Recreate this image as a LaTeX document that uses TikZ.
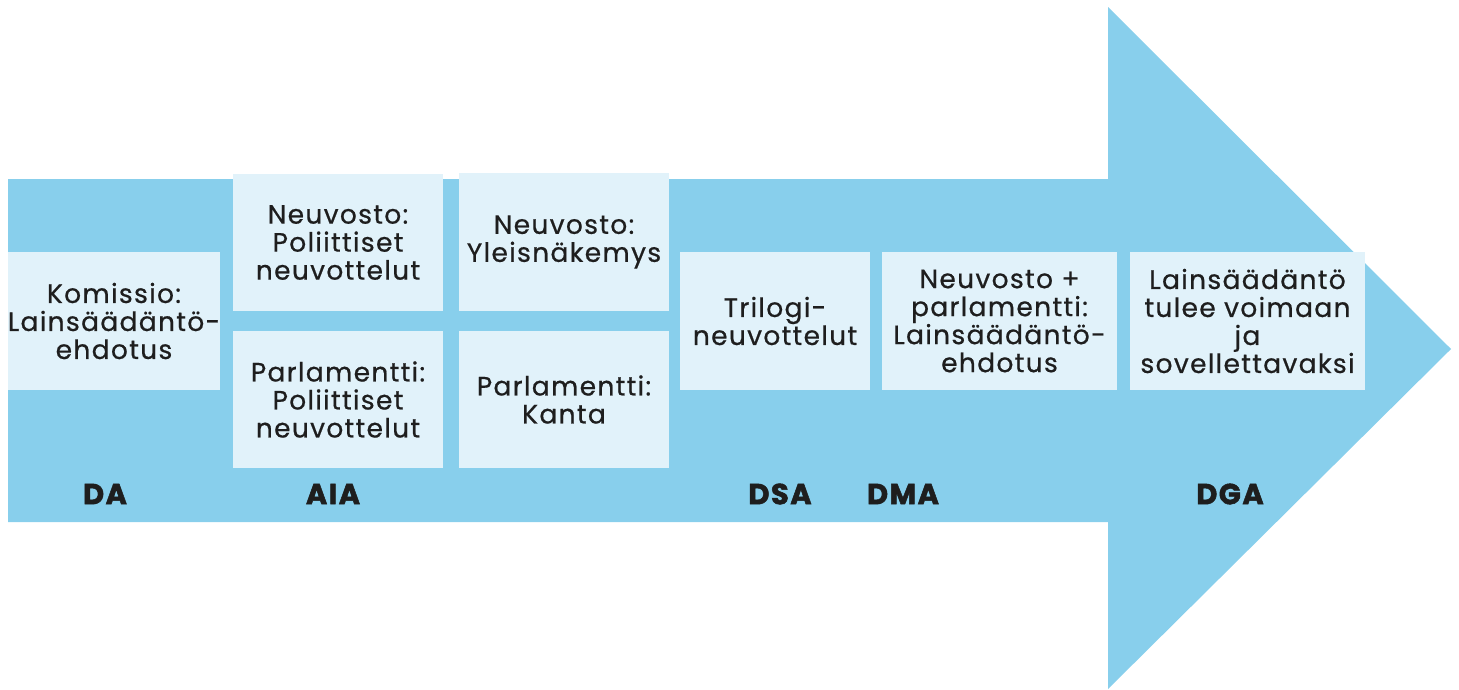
\documentclass[tikz,border=0pt]{standalone}
\usepackage{fontspec}
\setmainfont{Poppins}[LetterSpace=5,UprightFeatures={FakeBold=0.6},BoldFeatures={FakeBold=1.8}]
\usetikzlibrary{positioning}
\definecolor{arrowblue}{HTML}{88CFEC}
\definecolor{boxblue}{HTML}{E1F2FA}
\definecolor{ink}{HTML}{1E1E1E}

\begin{document}
\begin{tikzpicture}[x=1pt,y=-1pt]
    \tikzstyle{place}=[rectangle,fill=boxblue,text=ink,align=center,inner sep=0pt,
      font=\fontsize{26.5}{28}\selectfont]
    \tikzstyle{act}=[text=ink,inner sep=0pt,font=\fontsize{29}{30}\selectfont\bfseries]

    \useasboundingbox (0,0) rectangle (1459,689);

    % the big arrow
    \fill [arrowblue] (8,179) -- (1108,179) -- (1108,7) -- (1451,349)
      -- (1108,689) -- (1108,522) -- (8,522) -- cycle;

    \begin{scope}
      \node [place, minimum width=212, minimum height=138] at (114,321) (komissio)
        {Komissio:\\Lainsäädäntö-\\ehdotus};

      \node [place, minimum width=210, minimum height=137] at (338,242.5) (neuvpol)
        {Neuvosto:\\Poliittiset\\neuvottelut};
      \node [place, minimum width=210, minimum height=137] at (338,399.5) (parlpol)
        {Parlamentti:\\Poliittiset\\neuvottelut};

      \node [place, minimum width=210, minimum height=138] at (564,242) (yleis)
        {Neuvosto:\\Yleisnäkemys};
      \node [place, minimum width=210, minimum height=137] at (564,399.5) (kanta)
        {Parlamentti:\\Kanta};

      \node [place, minimum width=190, minimum height=138] at (775,321) (trilogi)
        {Trilogi-\\neuvottelut};
      \node [place, minimum width=235, minimum height=138] at (999.5,321) (ehdotus)
        {Neuvosto +\\parlamentti:\\Lainsäädäntö-\\ehdotus};
      \node [place, minimum width=235, minimum height=138] at (1247.5,321) (voimaan)
        {Lainsäädäntö\\tulee voimaan\\ja\\sovellettavaksi};
    \end{scope}

    % acts
    \node [act] at (105,494) (da) {DA};
    \node [act] at (333,494) (aia) {AIA};
    \node [act] at (780,494) (dsa) {DSA};
    \node [act] at (903,494) (dma) {DMA};
    \node [act] at (1230,494) (dga) {DGA};

\end{tikzpicture}
\end{document}
